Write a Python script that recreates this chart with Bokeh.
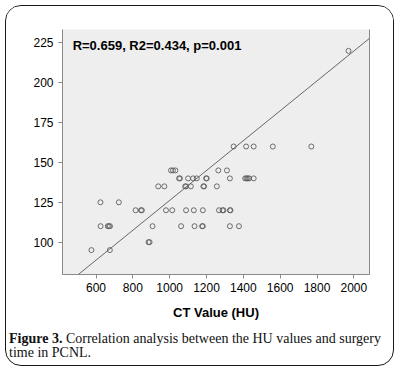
import numpy as np
from bokeh.plotting import figure
from bokeh.layouts import column
from bokeh.models import Label, LinearAxis, FixedTicker, Range1d, Div
from bokeh.embed import file_html
from bokeh.resources import INLINE

# ---- data ----
ct_value_hu = [
    1971,
    1347, 1415, 1456, 1560, 1769,
    1007, 1018, 1031, 1264, 1311,
    1051, 1056, 1100, 1127, 1147, 1198, 1201, 1327, 1410, 1417, 1424, 1431, 1456,
    938, 971, 1084, 1089, 1115, 1183, 1187, 1256,
    624, 724,
    815, 844, 849, 980, 1014, 1089, 1131, 1180, 1268, 1287, 1292, 1327, 1330,
    625, 664, 670, 676, 907, 1062, 1135, 1176, 1180, 1327, 1376,
    885, 891,
    575, 675,
]
surgery_time = [
    220,
    160, 160, 160, 160, 160,
    145, 145, 145, 145, 145,
    140, 140, 140, 140, 140, 140, 140, 140, 140, 140, 140, 140, 140,
    135, 135, 135, 135, 135, 135, 135, 135,
    125, 125,
    120, 120, 120, 120, 120, 120, 120, 120, 120, 120, 120, 120, 120,
    110, 110, 110, 110, 110, 110, 110, 110, 110, 110, 110,
    100, 100,
    95, 95,
]
fit_intercept = 32.5
fit_slope = 0.0937
x_ticks = [600, 800, 1000, 1200, 1400, 1600, 1800, 2000]
y_ticks = [100, 125, 150, 175, 200, 225]
stats_text = "R=0.659, R2=0.434, p=0.001"
x_title = "CT Value (HU)"
caption_bold = "Figure 3."
caption_line1 = "Correlation analysis between the HU values and surgery"
caption_line2 = "time in PCNL."

x_range = Range1d(418, 2085)
y_range = Range1d(79.7, 233.4)

p = figure(width=387, height=322, output_backend="svg", toolbar_location=None,
           x_range=x_range, y_range=y_range,
           min_border_left=56, min_border_right=24, min_border_top=23, min_border_bottom=54)

p.background_fill_color = "#eeeeee"
p.border_fill_color = "white"
p.outline_line_color = None
p.grid.visible = False

# regression line across the x range
fx = np.array([x_range.start, x_range.end])
fy = fit_intercept + fit_slope * fx
p.line(fx, fy, line_color="#666666", line_width=1)

p.scatter(ct_value_hu, surgery_time, marker="circle", size=5,
          fill_color=None, line_color="#5e5e5e", line_width=0.9)

for ax in (p.xaxis[0], p.yaxis[0]):
    ax.axis_line_color = "#8a8a8a"
    ax.major_tick_line_color = "#8a8a8a"
    ax.major_tick_out = 4
    ax.major_tick_in = 0
    ax.minor_tick_line_color = None
    ax.major_label_text_font = "Liberation Sans"
    ax.major_label_text_font_size = "12px"
    ax.major_label_text_color = "black"

p.xaxis.ticker = FixedTicker(ticks=x_ticks)
p.yaxis.ticker = FixedTicker(ticks=y_ticks)
p.xaxis.major_label_standoff = 4
p.yaxis.major_label_standoff = 5
p.xaxis.axis_label = x_title
p.xaxis.axis_label_text_font = "Liberation Sans"
p.xaxis.axis_label_text_font_style = "bold"
p.xaxis.axis_label_text_font_size = "13px"
p.xaxis.axis_label_text_color = "black"
p.xaxis.axis_label_standoff = 10

right_axis = LinearAxis(ticker=FixedTicker(ticks=[]), axis_line_color="#8a8a8a",
                        major_tick_line_color=None, minor_tick_line_color=None,
                        major_label_text_font_size="0px")
p.add_layout(right_axis, "right")

p.add_layout(Label(x=473, y=223.4, text=stats_text, text_font="Liberation Sans",
                   text_font_style="bold", text_font_size="13px", text_color="black",
                   text_baseline="middle"))

caption_html = (
    '<div style="padding:4px 0 0 3px; font-family:\'Liberation Serif\'; font-size:14px; '
    'line-height:14px; color:#111; white-space:nowrap;">'
    f'<b>{caption_bold}</b> {caption_line1}<br>{caption_line2}</div>'
)
cap = Div(text=caption_html, width=387, height=37, margin=0)

layout = column(p, cap, spacing=0,
                styles={"border": "1.5px solid #1a1a1a", "border-radius": "16px",
                        "margin": "5px", "background": "white", "overflow": "hidden"})

open("out.html", "w").write(file_html(layout, INLINE))
